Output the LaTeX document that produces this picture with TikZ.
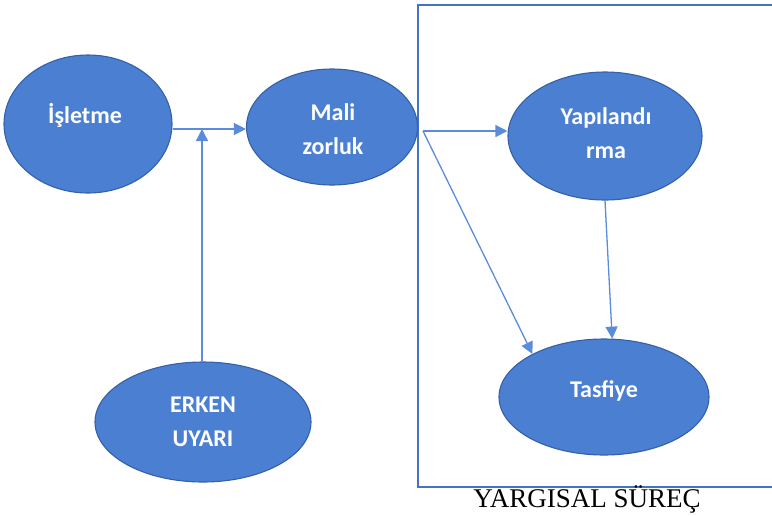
\documentclass[tikz,border=0pt]{standalone}
\usepackage{fontspec}
\setmainfont{Liberation Serif}
\newfontfamily\calib{Carlito}
\usetikzlibrary{shapes.geometric,arrows.meta}
\definecolor{blobfill}{HTML}{4A7FD2}
\definecolor{blobline}{HTML}{3560A8}
\definecolor{arrcol}{HTML}{5A8CDB}
\definecolor{boxcol}{HTML}{4472C4}
\tikzset{
  blob/.style={ellipse, fill=blobfill, draw=blobline, line width=1.1pt, inner sep=0pt},
  txt/.style={text=white, font=\calib\bfseries\fontsize{24}{34}\selectfont, align=center, inner sep=0pt},
  arr/.style={draw=arrcol, line width=1.3pt, -{Triangle[length=12pt,width=12pt]}},
  plainline/.style={draw=arrcol, line width=1.3pt},
}
\begin{document}
\begin{tikzpicture}[x=1pt,y=-1pt]
\useasboundingbox (0,0) rectangle (772,515);
% judicial process frame
\draw[boxcol, line width=2pt] (780,5) -- (418,5) -- (418,487) -- (780,487);
\node[font=\fontsize{27}{30}\selectfont, inner sep=0pt, anchor=base] (yargi) at (587,507) {YARGISAL SÜREÇ};
% ellipses
\node[blob, minimum width=168pt, minimum height=138pt] (isletme) at (88,124) {};
\node[blob, minimum width=171pt, minimum height=116pt] (mali) at (332,127) {};
\node[blob, minimum width=194pt, minimum height=128pt] (yap) at (605,136) {};
\node[blob, minimum width=210pt, minimum height=116pt] (tas) at (604,397) {};
\node[blob, minimum width=216pt, minimum height=120pt] (erken) at (203,422) {};
% texts
\node[txt, anchor=base] (isletmeT) at (85,123) {İşletme};
\node[txt] (maliT) at (333,129) {Mali\\zorluk};
\node[txt] (yapT) at (606,133) {Yapılandı\\rma};
\node[txt, anchor=base] (tasT) at (604,397) {Tasfiye};
\node[txt] (erkenT) at (203,422) {ERKEN\\UYARI};
% connectors
\coordinate (j) at (202,129);
\coordinate (s) at (423,131);
\draw[plainline] (isletme.east |- j) -- (j);
\draw[arr] (j) -- (mali.west |- j);
\draw[arr] (erken.north -| j) -- (j);
\draw[arr] (s) -- (s -| yap.west);
\draw[arr] (s) -- (tas.149);
\draw[arr] (yap.south) -- (tas.82);
\end{tikzpicture}
\end{document}
